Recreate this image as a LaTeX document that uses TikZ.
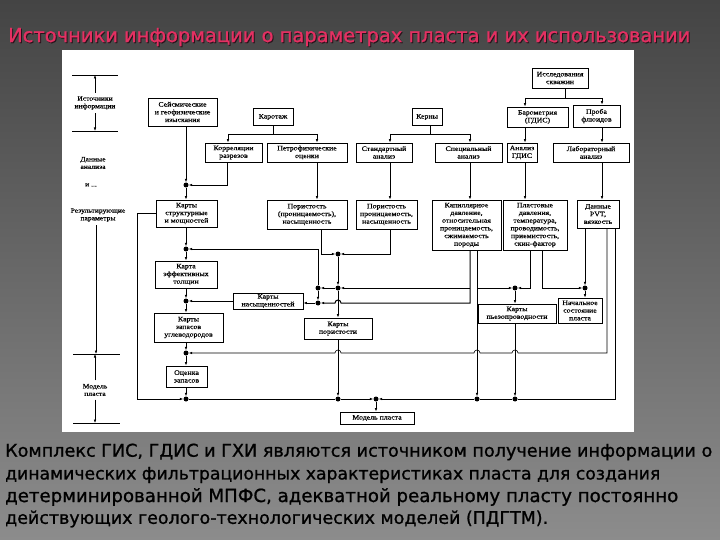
\documentclass[tikz,border=0pt]{standalone}
\usepackage{fontspec}
\setmainfont{Liberation Serif}
\newfontfamily\slidefont[FakeBold=1]{DejaVu Sans}
\newfontfamily\dfont[FakeStretch=1.15,FakeBold=0.6]{Liberation Serif}
\usetikzlibrary{arrows.meta,calc}
\definecolor{bgtop}{RGB}{68,68,68}
\definecolor{bgbot}{RGB}{140,140,140}
\definecolor{titlepink}{RGB}{228,48,98}
\definecolor{titleshadow}{RGB}{40,20,28}
\begin{document}
\begin{tikzpicture}[x=1pt,y=-1pt,
  box/.style={draw,line width=0.9pt,fill=white,align=center,inner sep=0.5pt,font=\dfont\fontsize{6.8}{7.7}\selectfont},
  conn/.style={line width=0.6pt},
  arr/.style={conn,-{Latex[length=3.5pt,width=2.6pt]}},
  dot/.style={circle,fill=black,inner sep=0pt,minimum size=5pt},
  lbl/.style={align=center,font=\dfont\fontsize{6.6}{7.6}\selectfont},
  axis/.style={line width=0.8pt},
  titletext/.style={anchor=west,inner sep=0pt,font=\slidefont},
  bodytext/.style={anchor=west,inner sep=0pt,font=\slidefont}]
\useasboundingbox (0,0) rectangle (720,540);
\shade[top color=bgtop,bottom color=bgbot] (0,0) rectangle (720,540);
% title
\node[titletext,text=titleshadow] (titleS) at (9,38) {\resizebox{682pt}{!}{Источники информации о параметрах пласта и их использовании}};
\node[titletext,text=titlepink] (title) at (8,37) {\resizebox{682pt}{!}{Источники информации о параметрах пласта и их использовании}};
% white picture area
\fill[white] (62,50) rectangle (634,432);
% body text
\node[bodytext] (b1) at (5,452) {\resizebox{707pt}{!}{Комплекс ГИС, ГДИС и ГХИ являются источником получение информации о}};
\node[bodytext] (b2) at (5,475) {\resizebox{655pt}{!}{динамических фильтрационных характеристиках пласта для создания}};
\node[bodytext] (b3) at (5,497) {\resizebox{673pt}{!}{детерминированной МПФС, адекватной реальному пласту постоянно}};
\node[bodytext] (b4) at (5,519) {\resizebox{543pt}{!}{действующих геолого-технологических моделей (ПДГТМ).}};

% ---------- left axis ----------
\coordinate (a1L) at (72,75); \coordinate (a1R) at (118,75);
\coordinate (a2L) at (72,131); \coordinate (a2R) at (118,131);
\draw[axis] (a1L) -- (a1R);
\draw[axis] (a2L) -- (a2R);
\node[lbl] (src) at (95,103) {Источники\\информации};
\draw[arr] (src.north) -- (src.north |- a1L);
\draw[arr] (src.south) -- (src.south |- a2L);
\node[lbl] (dan) at (93,163) {Данные\\анализа};
\node[lbl] (idots) at (91,185) {и ...};
\node[lbl] (res) at (98,215) {Результирующие\\параметры};
\coordinate (a3L) at (73,354); \coordinate (a3R) at (120,354);
\coordinate (a4L) at (73,423); \coordinate (a4R) at (120,423);
\draw[axis] (a3L) -- (a3R);
\draw[axis] (a4L) -- (a4R);
\coordinate (resB) at (96,354);
\draw[arr] (res.south -| resB) -- (resB);
\node[lbl] (mdl) at (95,390) {Модель\\пласта};
\draw[arr] (mdl.north) -- (mdl.north |- a3L);
\draw[arr] (mdl.south) -- (mdl.south |- a4L);

% ---------- boxes ----------
\node[box,minimum width=69pt,minimum height=28pt] (seis) at (182.5,112) {Сейсмические\\и геофизические\\изыскания};
\node[box,minimum width=40pt,minimum height=17pt] (karot) at (273,117) {Каротаж};
\node[box,minimum width=30pt,minimum height=17pt] (kern) at (427,117) {Керны};
\node[box,minimum width=56pt,minimum height=20pt] (issl) at (560,78) {Исследования\\скважин};
\node[box,minimum width=61pt,minimum height=20pt] (barom) at (537.5,117) {Барометрия\\(ГДИС)};
\node[box,minimum width=47pt,minimum height=22pt] (proba) at (596.5,116) {Проба\\флюидов};
\node[box,minimum width=57pt,minimum height=19pt] (korr) at (233.5,152.5) {Корреляции\\разрезов};
\node[box,minimum width=80pt,minimum height=19pt] (petro) at (307,152.5) {Петрофизические\\оценки};
\node[box,minimum width=56pt,minimum height=19pt] (stand) at (384,152.5) {Стандартный\\анализ};
\node[box,minimum width=67pt,minimum height=19pt] (spec) at (468.5,152.5) {Специальный\\анализ};
\node[box,minimum width=30pt,minimum height=19pt] (analgdis) at (522,152.5) {Анализ\\ГДИС};
\node[box,minimum width=76pt,minimum height=19pt] (lab) at (591,152.5) {Лабораторный\\анализ};
\node[box,minimum width=61pt,minimum height=27pt] (struct) at (186.5,213.5) {Карты\\структурные\\и мощностей};
\node[box,minimum width=80pt,minimum height=29pt] (por1) at (307,214.5) {Пористость\\(проницаемость),\\насыщенность};
\node[box,minimum width=61pt,minimum height=29pt] (por2) at (386.5,214.5) {Пористость\\проницаемость,\\насыщенность};
\node[box,minimum width=69pt,minimum height=50pt] (kap) at (466.5,225) {Капиллярное\\давление,\\относительная\\проницаемость,\\сжимаемость\\породы};
\node[box,minimum width=64pt,minimum height=50pt] (plast) at (535,225) {Пластовые\\давления,\\температура,\\проводимость,\\приемистость,\\скин-фактор};
\node[box,minimum width=42pt,minimum height=28pt] (pvt) at (598,214) {Данные\\PVT,\\вязкость};
\node[box,minimum width=62pt,minimum height=27pt] (eff) at (186,274.5) {Карта\\эффективных\\толщин};
\node[box,minimum width=70pt,minimum height=16pt] (nas) at (268,301) {Карты\\насыщенностей};
\node[box,minimum width=78pt,minimum height=19pt] (pzp) at (517,313.5) {Карты\\пьезопроводности};
\node[box,minimum width=44pt,minimum height=25pt] (nach) at (580,310.5) {Начальное\\состояние\\пласта};
\node[box,minimum width=69pt,minimum height=29pt] (zap) at (188.5,327.5) {Карты\\запасов\\углеводородов};
\node[box,minimum width=68pt,minimum height=21pt] (pormap) at (338,328.5) {Карты\\пористости};
\node[box,minimum width=41pt,minimum height=21pt] (ocen) at (186.5,376.5) {Оценка\\запасов};
\node[box,minimum width=74pt,minimum height=12pt] (model) at (377,418) {Модель пласта};

% ---------- junction dots ----------
\node[dot] (d1) at (186,185) {};
\node[dot] (d2) at (186,249) {};
\node[dot] (d3) at (186,301) {};
\node[dot] (d4) at (186,353) {};
\node[dot] (d5) at (186,399) {};
\node[dot] (d6) at (338,254) {};
\node[dot] (d7) at (318,288) {};
\node[dot] (d8) at (338,288) {};
\node[dot] (d9) at (318,303) {};
\node[dot] (d10) at (515,288) {};
\node[dot] (d11) at (585,288) {};
\node[dot] (d12) at (338,399) {};
\node[dot] (d13) at (376,399) {};
\node[dot] (d14) at (477,399) {};
\node[dot] (d15) at (515,399) {};

% ---------- top connectors ----------
\coordinate (kL) at (228,134); \coordinate (kR) at (317,134);
\draw[conn] (karot.south) -- (karot.south |- kL);
\draw[conn] (kL) -- (kR);
\draw[arr] (kL) -- (korr.north -| kL);
\draw[arr] (kR) -- (petro.north -| kR);

\coordinate (nL) at (390,134); \coordinate (nR) at (470,134); \coordinate (nC) at (430,134);
\draw[conn] (kern.south -| nC) -- (nC);
\draw[conn] (nL) -- (nR);
\draw[arr] (nL) -- (stand.north -| nL);
\draw[arr] (nR) -- (spec.north -| nR);

\coordinate (iL) at (525,98); \coordinate (iR) at (602,98); \coordinate (iC) at (565,98);
\draw[conn] (issl.south -| iC) -- (iC);
\draw[conn] (iL) -- (iR);
\draw[arr] (iL) -- (barom.north -| iL);
\draw[arr] (iR) -- (proba.north -| iR);

\draw[arr] (barom.south -| iL) -- (analgdis.north -| iL);
\draw[arr] (proba.south -| iR) -- (lab.north -| iR);
\draw[arr] (petro.south -| kR) -- (por1.north -| kR);
\draw[arr] (stand.south -| nL) -- (por2.north -| nL);
\draw[arr] (spec.south -| nR) -- (kap.north -| nR);
\draw[arr] (analgdis.south -| iL) -- (plast.north -| iL);
\draw[arr] (lab.south -| iR) -- (pvt.north -| iR);

% ---------- main left column ----------
\draw[arr] (seis.south -| d1) -- (d1);
\coordinate (kc) at (227,185);
\draw[arr] (korr.south -| kc) -- (kc) -- (d1);
\draw[arr] (d1) -- (struct.north -| d1);
\draw[arr] (struct.south -| d2) -- (d2);
\draw[arr] (d2) -- (eff.north -| d2);
\draw[arr] (eff.south -| d3) -- (d3);
\draw[arr] (d3) -- (zap.north -| d3);
\draw[arr] (zap.south -| d4) -- (d4);
\draw[arr] (d4) -- (ocen.north -| d4);
\draw[arr] (ocen.south -| d5) -- (d5);
\coordinate (sB) at (137,399);
\draw[arr] (struct.west) -- (struct.west -| sB) -- (sB) -- (d5);
\draw[arr,line width=1pt] (nas) -- (d3);

% ---------- porosity junctions ----------
\coordinate (p1) at (321,254); \coordinate (p2) at (390,254);
\draw[arr] (por1.south -| p1) -- (p1) -- (d6);
\draw[arr] (por2.south -| p2) -- (p2) -- (d6);
\draw[arr] (d6) -- (d8);
\draw[arr] (d8) -- (d7);
\draw[arr] (d7) |- (d2);
\draw[arr] (d7) -- (d9);
\draw[arr] (d9) -- (nas.east |- d9);
\draw[arr] (d8) -- (pormap.north);
\draw[arr] (pormap.south) -- (d12);

% ---------- right side ----------
\coordinate (kT) at (470,303); \coordinate (kM) at (470,288); \coordinate (kQ) at (477,288);
\draw[arr,line width=1pt] (kap.south -| kT) -- (kT) -- (341,303) arc[start angle=0,end angle=180,radius=3pt] -- (d9);
\draw[arr] (kM) -- (d8);
\draw[arr] (kap.south -| d14) -- (d14);
\draw[arr] (kQ) -- (d10);
\coordinate (pA) at (530,288); \coordinate (pB) at (542,288);
\draw[arr] (plast.south -| pA) -- (pA) -- (d10);
\draw[arr] (plast.south -| pB) -- (pB) -- (d11);
\draw[arr] (pvt.south -| d11) -- (d11);
\draw[arr] (d11) -- (nach.north -| d11);
\draw[arr] (d10) -- (pzp.north -| d10);
\coordinate (vA) at (607,353); \coordinate (vB) at (615,399);
\draw[arr] (pvt.south -| vA) -- (vA) -- (518,353) arc[start angle=0,end angle=180,radius=3pt] -- (480,353) arc[start angle=0,end angle=180,radius=3pt] -- (341,353) arc[start angle=0,end angle=180,radius=3pt] -- (d4);
\draw[conn] (pvt.south -| vB) -- (vB) -- (d15);
\draw[arr] (pzp.south -| d15) -- (d15);

% ---------- bottom line ----------
\draw[conn] (d5) -- (d12);
\draw[arr] (d12) -- (d13);
\draw[conn] (d15) -- (d14);
\draw[arr] (d14) -- (d13);
\draw[arr] (d13) -- (model.north -| d13);
\end{tikzpicture}
\end{document}
